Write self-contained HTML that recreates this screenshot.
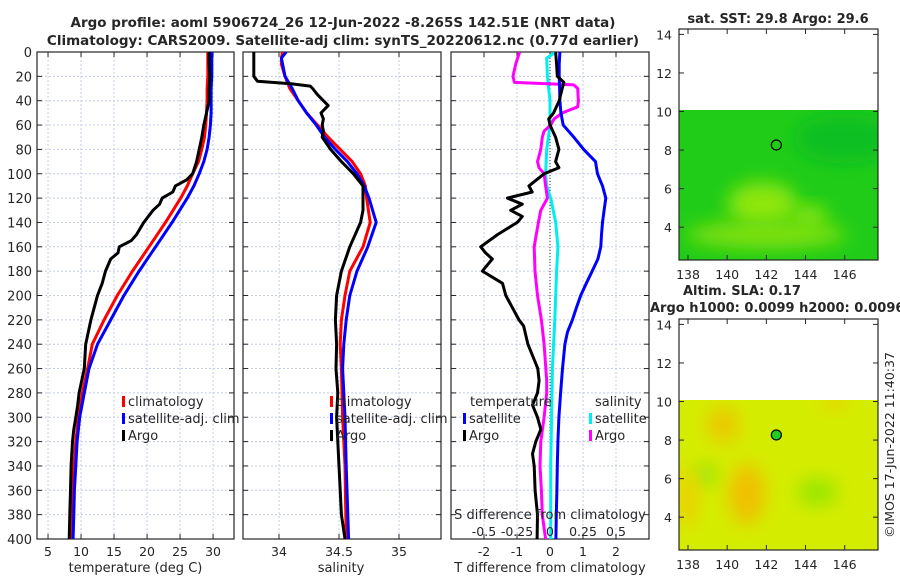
<!DOCTYPE html>
<html><head><meta charset="utf-8">
<style>
html,body{margin:0;padding:0;background:#fff;}
svg{display:block;font-family:"DejaVu Sans","Liberation Sans",sans-serif;}
text{fill:#262626;}
</style></head>
<body>
<svg id="fig" width="900" height="580" viewBox="0 0 900 580" xmlns="http://www.w3.org/2000/svg">
<defs>
<clipPath id="c1"><rect x="37" y="52" width="197" height="487"/></clipPath>
<clipPath id="c2"><rect x="243" y="52" width="198" height="487"/></clipPath>
<clipPath id="c3"><rect x="451" y="52" width="198" height="487"/></clipPath>
<clipPath id="m1"><rect x="679" y="110" width="199" height="150"/></clipPath>
<clipPath id="m2"><rect x="679" y="400" width="199" height="150"/></clipPath>
<filter id="bl" x="-50%" y="-50%" width="200%" height="200%"><feGaussianBlur stdDeviation="9"/></filter>
</defs>
<text x="343" y="27" text-anchor="middle" font-weight="bold" font-size="13.5">Argo profile: aoml 5906724_26 12-Jun-2022 -8.265S 142.51E (NRT data)</text>
<text x="343" y="45" text-anchor="middle" font-weight="bold" font-size="13.5">Climatology: CARS2009. Satellite-adj clim: synTS_20220612.nc (0.77d earlier)</text>
<g id="root"></g>
</svg>
<script>
// ---- data ----
const depths = [0,10,20,30,40,50,60,70,80,90,100,110,120,140,160,180,200,220,240,260,280,300,320,340,360,380,400];
const tempClim = [29.2,29.2,29.2,29.1,29.1,29.0,28.9,28.7,28.3,27.8,26.9,26.1,25.1,22.8,20.3,17.8,15.5,13.5,11.7,11.0,10.2,9.6,9.2,8.9,8.8,8.7,8.6];
const tempSat  = [29.8,29.8,29.8,29.7,29.7,29.7,29.6,29.4,29.1,28.6,27.9,27.1,26.1,23.8,21.3,18.8,16.5,14.5,12.5,11.2,10.5,9.8,9.4,9.2,9.0,8.9,8.8];
const tempArgoDepth = [0,10,20,30,40,50,60,70,80,90,100,105,110,115,120,125,130,140,150,155,160,165,170,180,190,200,210,220,240,260,280,290,300,310,320,340,360,380,400];
const tempArgo = [29.4,29.4,29.5,29.4,29.4,29.0,28.6,28.3,27.9,27.5,26.9,26.0,24.3,23.9,22.3,21.9,20.9,19.5,18.4,17.6,15.8,15.6,14.5,13.7,13.2,12.5,12.0,11.5,10.7,10.5,9.7,9.5,9.2,8.9,8.7,8.5,8.4,8.3,8.2];
const salDepth = [0,5,10,20,30,40,50,60,70,80,90,100,110,120,140,160,180,200,220,240,260,300,340,400];
const salClim = [34.03,34.02,34.02,34.05,34.09,34.16,34.23,34.32,34.41,34.51,34.61,34.68,34.72,34.73,34.76,34.70,34.59,34.55,34.52,34.51,34.52,34.53,34.55,34.56];
const salSat  = [34.06,34.02,34.03,34.05,34.11,34.16,34.23,34.31,34.38,34.47,34.57,34.65,34.71,34.75,34.81,34.74,34.65,34.59,34.56,34.54,34.53,34.55,34.56,34.58];
const salArgoDepth = [0,10,20,24,26,28,30,35,40,44,50,55,60,65,70,80,90,100,110,120,130,140,160,180,200,220,240,260,280,300,320,340,360,380,400];
const salArgo = [33.79,33.79,33.79,33.82,34.10,34.26,34.28,34.32,34.37,34.41,34.35,34.37,34.36,34.37,34.36,34.43,34.52,34.62,34.70,34.70,34.70,34.68,34.59,34.52,34.48,34.47,34.48,34.475,34.49,34.48,34.49,34.5,34.51,34.52,34.55];
const dTDepth = [0,10,20,30,40,50,60,70,80,90,100,110,120,130,140,150,160,170,180,190,200,210,220,230,240,260,280,300,320,340,360,380,400];
const dTSat = [0.30,0.28,0.28,0.29,0.30,0.33,0.40,0.72,1.02,1.38,1.44,1.59,1.69,1.64,1.59,1.56,1.54,1.45,1.28,1.10,0.93,0.80,0.68,0.53,0.45,0.38,0.32,0.27,0.24,0.22,0.21,0.19,0.18];
const dTArgoDepth = [0,10,20,25,30,40,50,55,60,70,80,90,95,100,110,115,120,125,130,135,140,150,160,165,170,175,180,190,200,210,220,225,240,260,270,280,290,300,310,320,330,340,360,380,400];
const dTArgo = [0.17,0.20,0.22,0.42,0.37,0.28,0.11,-0.04,0.0,0.17,0.27,0.17,0.27,-0.18,-0.64,-0.54,-1.29,-0.84,-1.19,-0.84,-0.99,-1.59,-2.10,-1.95,-1.75,-1.90,-2.05,-1.44,-1.34,-1.14,-0.94,-0.80,-0.67,-0.37,-0.33,-0.38,-0.53,-0.38,-0.28,-0.43,-0.53,-0.48,-0.45,-0.38,-0.39];
const dSDepth = [0,5,20,40,60,80,100,110,120,140,160,180,200,220,260,300,340,400];
const dSSat = [0.043,-0.025,-0.02,0,0,-0.025,-0.033,-0.025,0.005,0.043,0.06,0.05,0.043,0.036,0.018,0.012,0.005,0.005];
const dSArgoDepth = [0,10,20,25,27,30,40,45,50,55,60,65,70,80,90,95,100,110,120,130,140,160,180,200,220,240,270,280,300,320,340,360,380,400];
const dSArgo = [-0.23,-0.26,-0.28,-0.27,0.18,0.21,0.215,0.21,0.094,0.03,0.005,-0.045,-0.058,-0.07,-0.095,-0.083,-0.045,-0.033,-0.02,-0.07,-0.088,-0.12,-0.114,-0.095,-0.065,-0.045,-0.025,-0.025,-0.045,-0.07,-0.076,-0.065,-0.058,-0.033];
const depthTicks = [0,20,40,60,80,100,120,140,160,180,200,220,240,260,280,300,320,340,360,380,400];
const tempTicks = [5,10,15,20,25,30];
const salTicks = [34,34.5,35];
const dTTicks = [-2,-1,0,1,2];
const dSTicks = [-0.5,-0.25,0,0.25,0.5];
const lonTicks = [138,140,142,144,146];
const latTicks = [4,6,8,10,12,14];
const floatLon = 142.51, floatLat = 8.265;

// ---- scales ----
const NS='http://www.w3.org/2000/svg';
const root=document.getElementById('root');
function el(tag,attrs,parent){const e=document.createElementNS(NS,tag);for(const k in attrs)e.setAttribute(k,attrs[k]);(parent||root).appendChild(e);return e;}
const Y0=52,Y1=539;
const yD=d=>Y0+(d/400)*(Y1-Y0);
const P1={x0:37,x1:234,v0:3.33,v1:33.17};
const P2={x0:243,x1:441,v0:33.7,v1:35.35};
const P3={x0:451,x1:649,v0:-3,v1:3};
const sx=(p,v)=>p.x0+(v-p.v0)/(p.v1-p.v0)*(p.x1-p.x0);
const xS3=v=>sx(P3,v*4);

function panel(p,name,xt,fmt){
  const g=el('g',{});
  
  
  depthTicks.forEach(d=>{el('line',{x1:p.x0,x2:p.x1,y1:yD(d),y2:yD(d),stroke:'#c4cce6','stroke-width':1,'stroke-dasharray':'2,2'},g);});
  xt.forEach(v=>{const x=sx(p,v);el('line',{x1:x,x2:x,y1:Y0,y2:Y1,stroke:'#c4cce6','stroke-width':1,'stroke-dasharray':'2,2'},g);});
  el('rect',{x:p.x0,y:Y0,width:p.x1-p.x0,height:Y1-Y0,fill:'none',stroke:'#262626','stroke-width':1.2},g);
  depthTicks.forEach(d=>{el('line',{x1:p.x0,x2:p.x0+5,y1:yD(d),y2:yD(d),stroke:'#262626'},g);el('line',{x1:p.x1-5,x2:p.x1,y1:yD(d),y2:yD(d),stroke:'#262626'},g);});
  xt.forEach(v=>{const x=sx(p,v);el('line',{x1:x,x2:x,y1:Y1-5,y2:Y1,stroke:'#262626'},g);el('line',{x1:x,x2:x,y1:Y0,y2:Y0+5,stroke:'#262626'},g);
    const t=el('text',{x:x,y:Y1+17,'text-anchor':'middle','font-size':12.5},g);t.textContent=fmt(v);});
  return g;
}
function line(p,ds,vs,color,clip,name,xf){
  const pts=ds.map((d,i)=>(xf?xf(vs[i]):sx(p,vs[i])).toFixed(1)+','+yD(d).toFixed(1)).join(' ');
  const e=el('polyline',{points:pts,fill:'none',stroke:color,'stroke-width':3,'stroke-linejoin':'round','clip-path':'url(#'+clip+')'});
  
  
}
function txt(x,y,s,attrs,name){const t=el('text',Object.assign({x:x,y:y,'font-size':13},attrs||{}));t.textContent=s;return t;}
function legend(x,y,color,label,name){
  const r=el('rect',{x:x,y:y-10,width:3,height:11,fill:color});
  
  
  txt(x+6,y,label,{},name);
}

// depth labels
depthTicks.forEach(d=>{const t=txt(32,yD(d)+5,String(d),{'text-anchor':'end','font-size':13},'depth-tick-label');});

panel(P1,'temperature-panel',tempTicks,v=>String(v));
line(P1,depths,tempClim,'#f00','c1','temperature-climatology-line');
line(P1,depths,tempSat,'#00f','c1','temperature-satellite-line');
line(P1,tempArgoDepth,tempArgo,'#000','c1','temperature-argo-line');
txt(135.5,572,'temperature (deg C)',{'text-anchor':'middle'},'temperature-x-axis-title');
legend(122,406,'#f00','climatology','legend-climatology');
legend(122,423,'#00f','satellite-adj. clim','legend-satellite-adj');
legend(122,440,'#000','Argo','legend-argo');

panel(P2,'salinity-panel',salTicks,v=>String(v));
line(P2,salDepth,salClim,'#f00','c2','salinity-climatology-line');
line(P2,salDepth,salSat,'#00f','c2','salinity-satellite-line');
line(P2,salArgoDepth,salArgo,'#000','c2','salinity-argo-line');
txt(341,572,'salinity',{'text-anchor':'middle'},'salinity-x-axis-title');
legend(330,406,'#f00','climatology','legend2-climatology');
legend(330,423,'#00f','satellite-adj. clim','legend2-satellite-adj');
legend(330,440,'#000','Argo','legend2-argo');

panel(P3,'difference-panel',dTTicks,v=>String(v));
el('line',{x1:sx(P3,0),x2:sx(P3,0),y1:Y0,y2:Y1,stroke:'#333','stroke-width':1,'stroke-dasharray':'1,2'});
line(P3,dSDepth,dSSat,'#0ee','c3','salinity-diff-satellite-line',xS3);
line(P3,dSArgoDepth,dSArgo,'#f0f','c3','salinity-diff-argo-line',xS3);
line(P3,dTDepth,dTSat,'#00f','c3','temperature-diff-satellite-line');
line(P3,dTArgoDepth,dTArgo,'#000','c3','temperature-diff-argo-line');
txt(550,572,'T difference from climatology',{'text-anchor':'middle'},'t-diff-x-axis-title');
txt(550,519,'S difference from climatology',{'text-anchor':'middle'},'s-diff-axis-title');
dSTicks.forEach(v=>{txt(xS3(v),536,String(v),{'text-anchor':'middle','font-size':12.5},'s-diff-tick-label');});
txt(470,406,'temperature',{},'legend3-temperature-header');
legend(463,423,'#00f','satellite','legend3-t-satellite');
legend(463,440,'#000','Argo','legend3-t-argo');
txt(595,406,'salinity',{},'legend3-salinity-header');
legend(589,423,'#0ee','satellite','legend3-s-satellite');
legend(589,440,'#f0f','Argo','legend3-s-argo');

// ---- maps ----
const MX0=679,MX1=878,L0=137.54,L1=147.7;
const mx=l=>MX0+(l-L0)/(L1-L0)*(MX1-MX0);
function mapAxes(oy,name,title){
  const my=lat=>oy+29+(14.28-lat)*19.28;
  const g=el('g',{});
  
  
  const clip=oy?'m2':'m1';
  const gd=el('g',{'clip-path':'url(#'+clip+')'},g);
  if(!oy){
    el('rect',{x:679,y:my(10.1),width:199,height:160,fill:'#20cc18'},gd);
    el('ellipse',{cx:mx(146),cy:my(8.6),rx:50,ry:25,fill:'#0cbf22',filter:'url(#bl)'},gd);
    el('ellipse',{cx:mx(141.8),cy:my(5.2),rx:35,ry:22,fill:'#8ee60a',filter:'url(#bl)'},gd);
    el('ellipse',{cx:mx(142),cy:my(3.6),rx:80,ry:14,fill:'#7fe00a',filter:'url(#bl)'},gd);
    el('ellipse',{cx:mx(144.2),cy:my(4.6),rx:18,ry:10,fill:'#8ee60a',filter:'url(#bl)'},gd);
  } else {
    el('rect',{x:679,y:my(10.1),width:199,height:160,fill:'#d4ec00'},gd);
    el('ellipse',{cx:mx(141),cy:my(5.2),rx:18,ry:30,fill:'#f0c000',filter:'url(#bl)'},gd);
    el('ellipse',{cx:mx(139.8),cy:my(8.8),rx:16,ry:18,fill:'#ecc800',filter:'url(#bl)'},gd);
    el('ellipse',{cx:mx(138.9),cy:my(6.2),rx:10,ry:10,fill:'#8fe20a',filter:'url(#bl)'},gd);
    el('ellipse',{cx:mx(144.6),cy:my(5.3),rx:20,ry:14,fill:'#98e600',filter:'url(#bl)'},gd);
    el('ellipse',{cx:mx(138),cy:my(5),rx:10,ry:30,fill:'#ecd000',filter:'url(#bl)'},gd);
    el('ellipse',{cx:mx(145.5),cy:my(10),rx:12,ry:8,fill:'#ecd000',filter:'url(#bl)'},gd);
  }
  el('rect',{x:MX0,y:oy+29,width:MX1-MX0,height:231,fill:'none',stroke:'#262626','stroke-width':1.2},g);
  lonTicks.forEach(l=>{const x=mx(l);el('line',{x1:x,x2:x,y1:oy+255,y2:oy+260,stroke:'#262626'},g);el('line',{x1:x,x2:x,y1:oy+29,y2:oy+34,stroke:'#262626'},g);
    txt(x,oy+279,String(l),{'text-anchor':'middle','font-size':12.5},'map-lon-tick-label');});
  latTicks.forEach(l=>{const y=my(l);el('line',{x1:MX0,x2:MX0+5,y1:y,y2:y,stroke:'#262626'},g);el('line',{x1:MX1-5,x2:MX1,y1:y,y2:y,stroke:'#262626'},g);
    txt(672,y+5,String(l),{'text-anchor':'end','font-size':12.5},'map-lat-tick-label');});
  const c=el('circle',{cx:mx(floatLon),cy:my(floatLat),r:5,fill:oy?'#22cc22':'none',stroke:'#000','stroke-width':1.2},g);
  
  
}
mapAxes(0,'sst-map');
mapAxes(290,'sla-map');
txt(778,23,'sat. SST: 29.8 Argo: 29.6',{'text-anchor':'middle','font-weight':'bold'},'sst-map-title');
txt(683,295,'Altim. SLA: 0.17',{'font-weight':'bold'},'sla-map-title');
txt(650,312,'Argo h1000: 0.0099 h2000: 0.0096',{'font-weight':'bold'},'sla-map-subtitle');
txt(0,0,'©IMOS 17-Jun-2022 11:40:37',{'text-anchor':'middle','font-size':12.5,transform:'translate(894,445) rotate(-90)'},'imos-timestamp');
</script>
</body></html>
